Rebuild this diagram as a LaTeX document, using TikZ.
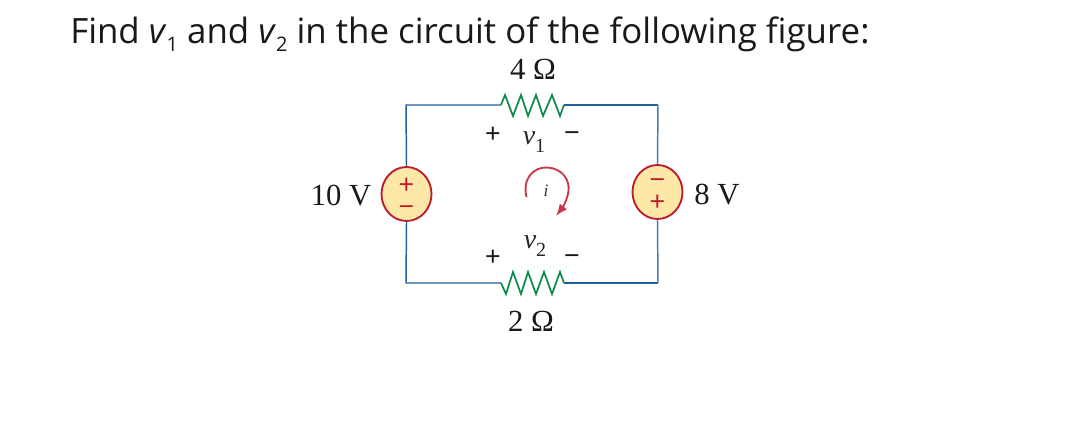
\documentclass[tikz,border=0pt]{standalone}
\usepackage{fontspec}
\setmainfont{Liberation Serif}
\newfontfamily\titlefont{Open Sans}
\newfontfamily\signfont{Liberation Sans}
\usetikzlibrary{shapes.geometric,arrows.meta}
\definecolor{wireL}{HTML}{1F5F9A}
\definecolor{wireR}{HTML}{3B7DB4}
\definecolor{resgreen}{HTML}{0F8A4E}
\definecolor{srcred}{HTML}{BE1E2D}
\definecolor{srcfill}{HTML}{FDE8A8}
\definecolor{arcred}{HTML}{C8384A}
\tikzset{
  x=0.75pt,y=-0.75pt,
  wire/.style={line width=1.1pt,line join=miter},
  res/.style={draw=resgreen,line width=1.3pt,line join=miter},
  src/.style={ellipse,draw=srcred,fill=srcfill,line width=1.4pt,minimum width=37.5pt,minimum height=40.5pt,inner sep=0pt},
  lab/.style={font=\fontsize{23}{25}\selectfont,inner sep=0pt,text=black!90},
  sign/.style={font=\signfont\fontsize{20}{22}\selectfont,inner sep=0pt,text=black!90},
  pol/.style={font=\signfont\fontsize{20}{22}\selectfont,inner sep=0pt,text=srcred,text height=7pt,text depth=0pt},
  vlab/.style={font=\fontsize{21}{23}\selectfont,inner sep=0pt,text=black!85},
}
\newcommand{\subsc}[1]{\raisebox{-0.22em}{\fontsize{15}{16}\selectfont\upshape #1}}
\newcommand{\vsub}[1]{\raisebox{-0.3em}{\fontsize{15}{16}\selectfont\upshape #1}}
\begin{document}
\begin{tikzpicture}
\useasboundingbox (0,0) rectangle (1076,441);
\node[anchor=base west,inner sep=0pt,font=\titlefont\fontsize{26.15}{28}\selectfont,text=black!90] (title) at (70,44)
  {Find \textit{v}\subsc{1} and \textit{v}\subsc{2} in the circuit of the following figure:};
% corners and resistor ends
\coordinate (tl) at (406,105);
\coordinate (tr) at (658,105);
\coordinate (bl) at (406,283);
\coordinate (br) at (658,283);
\coordinate (r1a) at (501,105);
\coordinate (r1b) at (564,105);
\coordinate (r2a) at (501,283);
\coordinate (r2b) at (564,283);
% sources
\node[src] (vs1) at (406.5,194) {};
\node[src] (vs2) at (657.5,192) {};
\node[pol] (p1) at (406.5,189) {+};
\node[pol] (m1) at (406.5,211) {−};
\node[pol] (m2) at (657.5,184) {−};
\node[pol] (p2) at (657.5,206) {+};
% wires
\draw[wire,wireL] (vs1.north) -- (tl) -- (r1a);
\draw[wire,wireL] (r1b) -- (tr);
\draw[wire,wireR] (tr) -- (vs2.north);
\draw[wire,wireL] (vs1.south) -- (bl) -- (r2a);
\draw[wire,wireL] (r2b) -- (br);
\draw[wire,wireR] (br) -- (vs2.south);
% resistors
\draw[res] (r1a) -- (505,95) -- (513,116) -- (521,95) -- (528,116) -- (536,95) -- (543,116) -- (552,95) -- (560,116) -- (r1b);
\draw[res] (r2a) -- (506,294) -- (513,272) -- (521,294) -- (528,272) -- (536,294) -- (544,272) -- (552,294) -- (560,272) -- (r2b);
% labels
\node[lab] (l4) at (533,69) {4 Ω};
\node[lab] (l2) at (531,321) {2 Ω};
\node[lab] (l10) at (341,196) {10 V};
\node[lab] (l8) at (717,195) {8 V};
\node[sign] (s1) at (493,135) {+};
\node[sign] (s2) at (572,137) {−};
\node[sign] (s3) at (493,258) {+};
\node[sign] (s4) at (572,260) {−};
\node[vlab] (v1) at (534,142) {\textit{v}\vsub{1}};
\node[vlab] (v2) at (535,246) {\textit{v}\vsub{2}};
\node[font=\fontsize{13}{14}\selectfont\itshape,inner sep=0pt,text=black!80] (cur) at (546,191) {i};
% mesh-current arrow
\coordinate (a0) at (526.5,197);
\coordinate (a1) at (556,216);
\draw[arcred,line width=1.4pt,-{Latex[length=9pt,width=7pt]}] (a0) .. controls (522,178) and (534,167) .. (547,167.5) .. controls (562,168) and (570,180) .. (568.5,191) .. controls (567.5,199) and (563,207) .. (a1);
\end{tikzpicture}
\end{document}
